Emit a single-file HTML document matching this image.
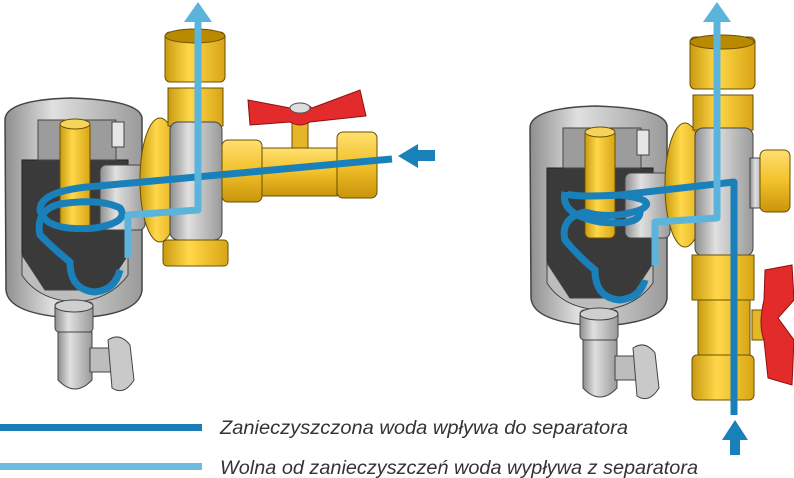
<!DOCTYPE html>
<html><head><meta charset="utf-8"><style>
html,body{margin:0;padding:0;background:#fff}
svg{display:block}
text{font-family:"Liberation Sans",sans-serif;font-style:italic;fill:#333}
</style></head><body>
<svg width="794" height="478" viewBox="0 0 794 478" xmlns="http://www.w3.org/2000/svg">
<defs>
<linearGradient id="gy" x1="0" x2="1"><stop offset="0" stop-color="#c99a10"/><stop offset=".4" stop-color="#ffd84a"/><stop offset="1" stop-color="#d9a514"/></linearGradient>
<linearGradient id="gyv" x1="0" y1="0" x2="0" y2="1"><stop offset="0" stop-color="#ffe070"/><stop offset=".5" stop-color="#f3c12a"/><stop offset="1" stop-color="#c8940c"/></linearGradient>
<linearGradient id="gg" x1="0" x2="1"><stop offset="0" stop-color="#8e8e8e"/><stop offset=".35" stop-color="#e0e0e0"/><stop offset="1" stop-color="#9a9a9a"/></linearGradient>
<g id="sep">
  <path d="M5 120 Q5 100 70 98 Q140 100 142 118 L142 290 Q140 315 75 318 Q8 315 6 290 Z" fill="url(#gg)" stroke="#444" stroke-width="1.5"/>
  <path d="M22 160 L128 160 L128 255 L105 290 L45 290 L22 255 Z" fill="#3a3a3a" stroke="#222"/>
  <path d="M22 255 L45 290 L105 290 L128 255 L128 275 Q110 300 75 302 Q38 300 22 275Z" fill="#bdbdbd" stroke="#444"/>
  <rect x="38" y="120" width="78" height="40" fill="#9c9c9c" stroke="#444"/>
  <rect x="60" y="122" width="30" height="108" rx="5" fill="url(#gy)" stroke="#6b5000"/>
  <ellipse cx="75" cy="124" rx="15" ry="5" fill="#f6d35a" stroke="#6b5000"/>
  <rect x="112" y="122" width="12" height="25" fill="#e6e6e6" stroke="#444"/>
  <rect x="100" y="165" width="45" height="65" rx="6" fill="url(#gg)" stroke="#444"/>
  <rect x="55" y="302" width="38" height="30" rx="4" fill="url(#gg)" stroke="#444"/>
  <ellipse cx="74" cy="306" rx="19" ry="6" fill="#cfcfcf" stroke="#444"/>
  <path d="M58 332 L92 332 L92 380 Q75 398 58 380Z" fill="url(#gg)" stroke="#444"/>
  <rect x="90" y="348" width="22" height="24" fill="#bdbdbd" stroke="#444"/>
  <path d="M108 340 Q120 332 130 345 L134 380 Q124 396 112 388Z" fill="#c9c9c9" stroke="#444"/>
</g>
</defs>

<!-- LEFT DEVICE -->
<use href="#sep" x="0" y="0"/>
<ellipse cx="160" cy="180" rx="20" ry="62" fill="url(#gy)" stroke="#6b5000"/>
<rect x="165" y="32" width="60" height="50" rx="5" fill="url(#gy)" stroke="#6b5000"/>
<ellipse cx="195" cy="36" rx="30" ry="7" fill="#b98a00" stroke="#6b5000"/>
<rect x="168" y="88" width="55" height="38" fill="url(#gy)" stroke="#6b5000"/>
<rect x="170" y="122" width="52" height="118" rx="8" fill="url(#gg)" stroke="#444"/>
<rect x="163" y="240" width="65" height="26" rx="4" fill="url(#gy)" stroke="#6b5000"/>
<rect x="222" y="140" width="40" height="62" rx="6" fill="url(#gyv)" stroke="#6b5000"/>
<rect x="262" y="148" width="75" height="48" fill="url(#gyv)" stroke="#6b5000"/>
<rect x="337" y="132" width="40" height="66" rx="6" fill="url(#gyv)" stroke="#6b5000"/>
<rect x="292" y="118" width="16" height="30" fill="#e5b52a" stroke="#6b5000"/>
<path d="M248 100 L290 108 Q300 98 312 108 L360 90 L366 116 L310 122 Q300 128 290 122 L250 125Z" fill="#e42b2b" stroke="#8a1010"/>
<ellipse cx="300" cy="108" rx="10" ry="5" fill="#ddd" stroke="#555"/>
<path d="M392 159 L98 186 Q40 190 40 210 Q45 232 95 228 Q130 222 120 208 Q100 198 60 204 Q35 210 40 235 Q55 250 70 262 Q70 290 95 292 Q115 290 120 270" fill="none" stroke="#1a80b9" stroke-width="7" stroke-linejoin="round"/>
<path d="M398 156 L418 144 L418 168Z" fill="#1a80b9"/>
<rect x="417" y="150" width="18" height="11" fill="#1a80b9"/>
<path d="M128 258 L128 215 L198 210 L198 20" fill="none" stroke="#5ab4dc" stroke-width="7" stroke-linejoin="round"/>
<path d="M184 22 L198 2 L212 22Z" fill="#5ab4dc"/>

<!-- RIGHT DEVICE -->
<use href="#sep" x="525" y="8"/>
<ellipse cx="685" cy="185" rx="20" ry="62" fill="url(#gy)" stroke="#6b5000"/>
<rect x="690" y="37" width="65" height="52" rx="5" fill="url(#gy)" stroke="#6b5000"/>
<ellipse cx="722" cy="42" rx="32" ry="7" fill="#b98a00" stroke="#6b5000"/>
<rect x="693" y="95" width="60" height="35" fill="url(#gy)" stroke="#6b5000"/>
<rect x="695" y="128" width="58" height="128" rx="8" fill="url(#gg)" stroke="#444"/>
<rect x="750" y="158" width="15" height="50" fill="url(#gg)" stroke="#444"/>
<rect x="760" y="150" width="30" height="62" rx="6" fill="url(#gyv)" stroke="#6b5000"/>
<rect x="692" y="255" width="62" height="45" fill="url(#gy)" stroke="#6b5000"/>
<rect x="698" y="300" width="52" height="55" fill="url(#gy)" stroke="#6b5000"/>
<rect x="692" y="355" width="62" height="45" rx="5" fill="url(#gy)" stroke="#6b5000"/>
<rect x="752" y="310" width="14" height="30" fill="#e5b52a" stroke="#6b5000"/>
<path d="M765 270 L792 265 L794 300 L778 318 L794 340 L792 385 L768 378 L764 340 Q758 325 764 300Z" fill="#e42b2b" stroke="#8a1010"/>
<path d="M565 192 Q565 198 620 195 L734 182 L734 415" fill="none" stroke="#1a80b9" stroke-width="7" stroke-linejoin="round"/>
<path d="M620 195 Q660 200 640 210 Q610 220 585 212 Q560 218 565 240 Q580 258 595 270 Q595 298 620 300 Q640 298 645 280" fill="none" stroke="#1a80b9" stroke-width="7"/>
<path d="M565 192 Q560 215 600 222 Q640 226 640 212" fill="none" stroke="#1a80b9" stroke-width="7"/>
<path d="M730 438 L730 455 L740 455 L740 438Z" fill="#1a80b9"/>
<path d="M722 440 L735 420 L748 440Z" fill="#1a80b9"/>
<path d="M655 265 L655 222 L717 218 L717 20" fill="none" stroke="#5ab4dc" stroke-width="7" stroke-linejoin="round"/>
<path d="M703 22 L717 2 L731 22Z" fill="#5ab4dc"/>

<!-- LEGEND -->
<rect x="0" y="424" width="202" height="7" fill="#1a7db5"/>
<rect x="0" y="463" width="202" height="7" fill="#6cbde0"/>
<text x="220" y="434" font-size="19" textLength="408" lengthAdjust="spacingAndGlyphs">Zanieczyszczona woda wpływa do separatora</text>
<text x="220" y="474" font-size="19" textLength="478" lengthAdjust="spacingAndGlyphs">Wolna od zanieczyszczeń woda wypływa z separatora</text>
</svg>
</body></html>
